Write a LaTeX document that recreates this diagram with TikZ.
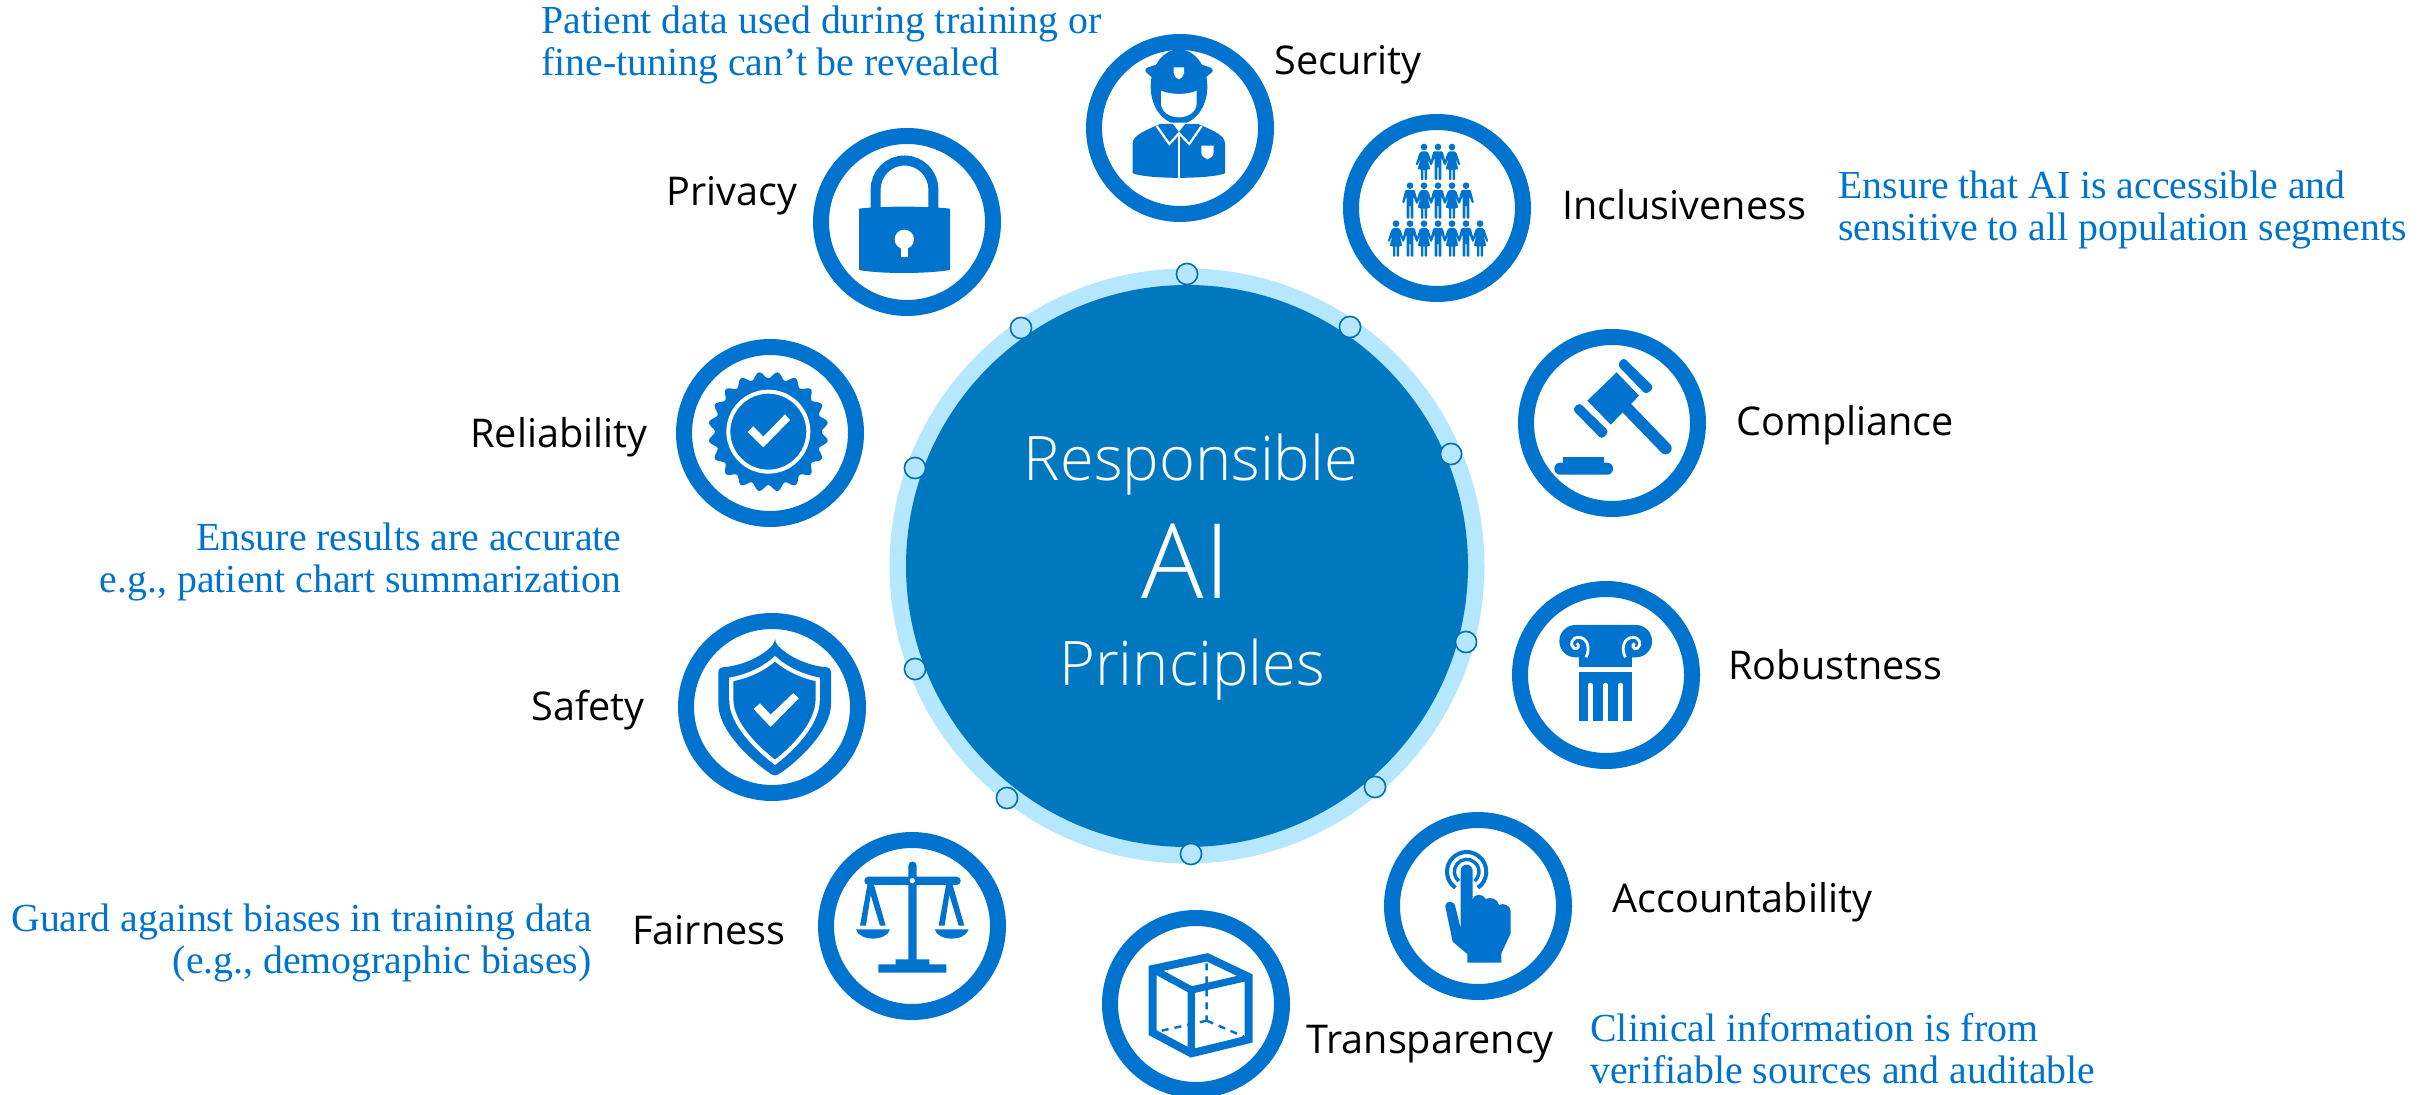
\documentclass[tikz,border=0pt]{standalone}
\usepackage{fontspec}
\setmainfont{Open Sans}
\newfontfamily\lightf{Open Sans Light}
\newfontfamily\serifb{Liberation Serif}
\definecolor{icon}{RGB}{0,115,207}
\definecolor{core}{RGB}{0,120,192}
\definecolor{halo}{RGB}{181,231,254}
\definecolor{dotline}{RGB}{0,112,176}
\newcommand\personM[2]{\begin{scope}[shift={(#1,#2)}]
\fill[icon] (0,-1) circle[radius=10];
\fill[icon,rounded corners=.5pt] (-14,12)--(14,12)--(24,50)--(18,52)--(10,30)--(10,98)--(1.8,98)--(1.8,58)--(-1.8,58)--(-1.8,98)--(-10,98)--(-10,30)--(-18,52)--(-24,50)--cycle;
\end{scope}}
\newcommand\personF[2]{\begin{scope}[shift={(#1,#2)}]
\fill[icon] (0,-1) circle[radius=10];
\fill[icon,rounded corners=.4pt] (-8,12)--(8,12)--(14,18)--(25,52)--(20,54)--(10,32)--(19,66)--(9,66)--(9,98)--(1.8,98)--(1.8,66)--(-1.8,66)--(-1.8,98)--(-9,98)--(-9,66)--(-19,66)--(-10,32)--(-20,54)--(-25,52)--(-14,18)--cycle;
\end{scope}}
\tikzset{
  x=0.5pt,y=-0.5pt,
  ring/.style={circle,draw=icon,line width=8pt,fill=white,minimum size=86pt,inner sep=0pt,outer sep=0pt},
  joint/.style={circle,draw=dotline,line width=.8pt,fill=halo,minimum size=10.6pt,inner sep=0pt},
  lab/.style={anchor=base west,inner sep=0pt,text=black,font=\fontsize{19.8}{23}\selectfont},
  notel/.style={anchor=base west,align=left,inner sep=0pt,text=icon,font=\serifb\fontsize{19.9}{21}\selectfont},
  noter/.style={anchor=base east,align=right,inner sep=0pt,text=icon,font=\serifb\fontsize{19.9}{21}\selectfont},
  title/.style={anchor=base,inner sep=0pt,text=white},
  crop/.style={shift={#1},scale=1/3},
}
\begin{document}
\begin{tikzpicture}
\useasboundingbox (0,0) rectangle (2430,1095);
% centre
\node[circle,fill=halo,minimum size=297.5pt,inner sep=0pt] (haloc) at (1187,566) {};
\node[circle,fill=core,minimum size=281pt,inner sep=0pt] (corec) at (1187,566) {};
\foreach \n/\p in {j1/{1187,274},j2/{1350,327},j3/{1451,454},j4/{1466,642},j5/{1375,787},j6/{1191,854},j7/{1007,798},j8/{915,669},j9/{915,468},j10/{1021,328}}{
  \node[joint] (\n) at (\p) {};
}
\node[title,font=\lightf\fontsize{30.7}{30}\selectfont] (t1) at (1191,481) {Responsible};
\node[title,font=\lightf\fontsize{52}{52}\selectfont] (t2) at (1186,599) {AI};
\node[title,font=\lightf\fontsize{30.7}{30}\selectfont] (t3) at (1192,686) {Principles};
% rings
\node[ring] (security) at (1180,128) {};
\node[ring] (inclusive) at (1437,208) {};
\node[ring] (compliance) at (1612,423) {};
\node[ring] (robust) at (1606,675) {};
\node[ring] (account) at (1478,906) {};
\node[ring] (transp) at (1196,1004) {};
\node[ring] (fair) at (912,926) {};
\node[ring] (safety) at (772,707) {};
\node[ring] (reliab) at (770,433) {};
\node[ring] (privacy) at (907,222) {};
% labels
\node[lab] (lsec) at (1274,75) {Security};
\node[lab] (linc) at (1562,220) {Inclusiveness};
\node[lab] (lcom) at (1736,436) {Compliance};
\node[lab] (lrob) at (1728,680) {Robustness};
\node[lab] (lacc) at (1612,912) {Accountability};
\node[lab] (ltra) at (1306,1053) {Transparency};
\node[lab] (lfai) at (632,944) {Fairness};
\node[lab] (lsaf) at (531,720) {Safety};
\node[lab] (lrel) at (470,448) {Reliability};
\node[lab] (lpri) at (666,206) {Privacy};
% notes
\node[notel] (n1) at (541,76) {Patient data used during training or\\fine-tuning can’t be revealed};
\node[notel] (n2) at (1838,241) {Ensure that AI is accessible and\\sensitive to all population segments};
\node[noter] (n3) at (622,593) {Ensure results are accurate\\e.g., patient chart summarization};
\node[noter] (n4) at (592,973) {Guard against biases in training data\\(e.g., demographic biases)};
\node[notel] (n5) at (1590,1083) {Clinical information is from\\verifiable sources and auditable};
% --- police
\begin{scope}[crop={(1060,20)}]
\fill[icon] (357,200) ellipse[x radius=85,y radius=112];
\fill[icon] (218,370) .. controls (218,345) and (260,330) .. (300,312) -- (415,312) .. controls (455,330) and (495,345) .. (495,370) -- (495,460) .. controls (450,478) and (265,478) .. (218,460) -- cycle;
\fill[white] (303,212) .. controls (335,225) and (380,225) .. (410,212) -- (410,250) .. controls (410,275) and (385,292) .. (357,292) .. controls (328,292) and (303,275) .. (303,250) -- cycle;
\fill[icon] (357,107) .. controls (375,118) and (420,132) .. (452,143) .. controls (460,148) and (460,155) .. (452,160) -- (430,178) -- (425,196) .. controls (395,228) and (320,228) .. (288,196) -- (282,178) -- (262,160) .. controls (254,155) and (254,148) .. (262,143) .. controls (295,132) and (340,118) .. (357,107) -- cycle;
\fill[white] (341,142) -- (372,142) -- (372,160) .. controls (372,170) and (362,175) .. (357,178) .. controls (350,175) and (341,170) .. (341,160) -- cycle;
\fill[white] (335,308) -- (378,308) -- (357,335) -- cycle;
\draw[white,line width=1.1pt] (290,318) -- (328,372) -- (357,340) -- (388,372) -- (425,318);
\draw[white,line width=1pt] (357,340) -- (357,484);
\fill[white] (424,377) -- (461,377) -- (461,398) .. controls (461,408) and (450,415) .. (442,418) .. controls (434,415) and (424,408) .. (424,398) -- cycle;
\end{scope}
% --- people
\begin{scope}[crop={(1060,20)}]
\foreach \x in {1092,1176} {\personF{\x}{382}}
\personM{1134}{382}
\foreach \x in {1050,1134,1218} {\personM{\x}{498}}
\foreach \x in {1092,1176} {\personF{\x}{498}}
\foreach \x in {1008,1092,1176,1260} {\personF{\x}{612}}
\foreach \x in {1050,1134,1218} {\personM{\x}{612}}
\end{scope}
% --- lock
\begin{scope}[crop={(780,110)}]
\draw[icon,line width=5pt] (287,300) -- (287,238) arc[start angle=180,end angle=360,radius=86.5] -- (460,300);
\fill[icon] (237,296) .. controls (300,288) and (440,288) .. (510,296) -- (510,480) .. controls (440,492) and (300,492) .. (237,480) -- cycle;
\fill[white] (373,388) circle[radius=29];
\fill[white] (362,400) rectangle (385,441);
\end{scope}
% --- badge
\begin{scope}[crop={(650,320)}]
\fill[icon,shift={(355,335)}] plot[domain=0:360,samples=241,smooth] (\x:{170+10*cos(20*(\x-9))}) -- cycle;
\draw[white,line width=2pt] (355,335) circle[radius=120];
\fill[white] (293,336) -- (310,319) -- (340,350) -- (405,283) -- (420,300) -- (340,382) -- cycle;
\end{scope}
% --- shield
\begin{scope}[crop={(660,600)}]
\fill[icon,rounded corners=2pt] (345,128) .. controls (300,175) and (240,198) .. (175,203) -- (175,300) .. controls (175,390) and (270,480) .. (345,530) .. controls (420,480) and (513,390) .. (513,300) -- (513,203) .. controls (450,198) and (390,175) .. (345,128) -- cycle;
\draw[white,line width=2.1pt] (345,176) .. controls (310,208) and (260,230) .. (214,238) -- (214,300) .. controls (214,370) and (290,445) .. (345,487) .. controls (400,445) and (473,370) .. (473,300) -- (473,238) .. controls (430,230) and (380,208) .. (345,176) -- cycle;
\fill[white] (281,327) -- (300,310) -- (332,344) -- (400,279) -- (416,295) -- (332,381) -- cycle;
\end{scope}
% --- scales
\begin{scope}[crop={(660,600)}]
\fill[icon] (745,1085) -- (745,797) arc[start angle=180,end angle=360,radius=12.5] -- (770,1085) -- cycle;
\fill[icon,rounded corners=2pt] (613,830) rectangle (902,855);
\fill[white] (757,842) circle[radius=8];
\foreach \d in {0,236} {
\fill[icon,shift={(\d,0)}] (622,855) -- (642,855) -- (677,977) -- (660,977) -- (632,885) -- (618,977) -- (600,977) -- cycle;
\fill[icon,shift={(\d,0)}] (588,988) -- (690,988) .. controls (680,1025) and (598,1025) .. (588,988) -- cycle;
}
\fill[icon] (707,1093) -- (707,1078) -- (808,1078) -- (808,1093) -- (859,1093) -- (859,1118) -- (655,1118) -- (655,1093) -- cycle;
\end{scope}
% --- cube
\begin{scope}[crop={(1090,800)}]
\draw[icon,line width=4pt,line join=miter] (188,507) -- (352,472) -- (476,531) -- (476,718) -- (304,760) -- (188,698) -- cycle;
\draw[icon,line width=3.6pt] (188,507) -- (304,570) -- (476,531) (304,570) -- (304,760);
\draw[icon,line width=1.2pt,dash pattern=on 3.5pt off 3pt] (350,490) -- (350,660) (350,662) -- (215,692) (350,662) -- (462,710);
\end{scope}
% --- hand
\begin{scope}[crop={(1370,800)}]
\draw[icon,line width=2pt] (290,215) ++(125:59) arc[start angle=125,end angle=415,radius=59];
\draw[icon,line width=1.7pt] (290,215) ++(130:37) arc[start angle=130,end angle=410,radius=37];
\fill[icon] (272,212) arc[start angle=180,end angle=360,radius=18] -- (308,298) .. controls (312,280) and (340,280) .. (347,297) .. controls (360,290) and (383,295) .. (387,315) .. controls (400,308) and (422,315) .. (422,335) -- (422,400) -- (394,460) -- (394,488) -- (292,488) -- (292,462) -- (248,425) -- (226,320) .. controls (226,300) and (252,300) .. (256,320) -- (272,385) -- cycle;
\end{scope}
% --- gavel
\begin{scope}[crop={(1500,320)}]
\fill[icon] (350,157) -- (417,227) -- (332,314) -- (262,242) -- cycle;
\draw[icon,line width=6pt,line cap=round] (378,262) -- (497,385);
\fill[icon,rounded corners=1.8pt] (370,112) -- (462,202) -- (438,224) -- (352,135) -- cycle;
\fill[icon,rounded corners=1.8pt] (238,248) -- (327,335) -- (305,358) -- (217,268) -- cycle;
\fill[icon,rounded corners=2.9pt] (163,428) rectangle (339,464);
\fill[icon] (190,410) rectangle (313,432);
\end{scope}
% --- column
\begin{scope}[crop={(1500,320)}]
\fill[icon,rounded corners=8pt] (178,915) rectangle (456,1012);
\fill[icon] (237,1000) rectangle (396,1042);
\fill[icon] (237,1056) rectangle (396,1204);
\foreach \x in {271,317,362} {\draw[white,line width=2.3pt,line cap=round] (\x,1095) -- (\x,1206);}
\draw[white,line width=1.4pt] (258,1012) .. controls (272,985) and (262,952) .. (235,952) .. controls (215,952) and (208,975) .. (222,985) .. controls (235,990) and (240,975) .. (230,970);
\draw[white,line width=1.4pt] (376,1012) .. controls (362,985) and (372,952) .. (399,952) .. controls (419,952) and (426,975) .. (412,985) .. controls (399,990) and (394,975) .. (404,970);
\end{scope}
\end{tikzpicture}
\end{document}
